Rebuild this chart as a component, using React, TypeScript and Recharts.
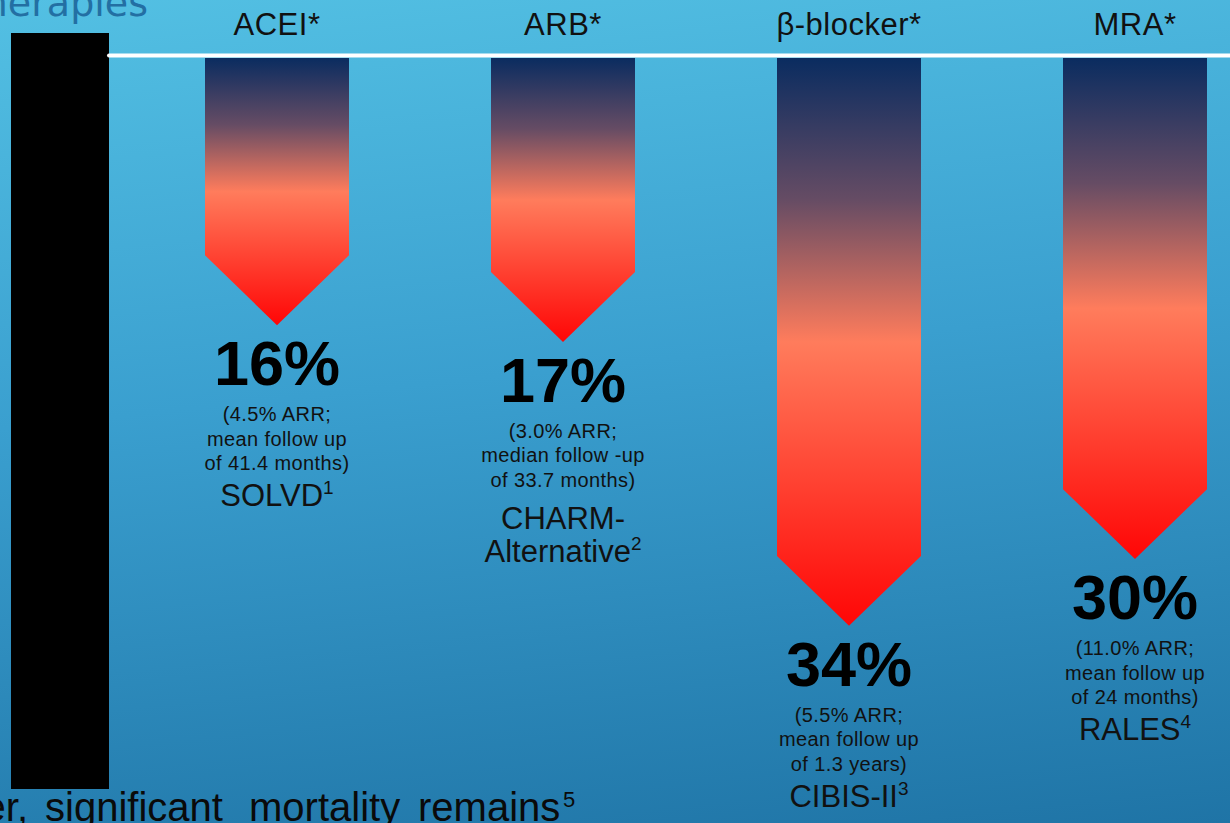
import React from "react";
import { BarChart, Bar, XAxis, YAxis } from "recharts";

const categories = ["ACEI*", "ARB*", "β-blocker*", "MRA*"];
const reductions = [16, 17, 34, 30];
const arrLines = [
  ["(4.5% ARR;", "mean follow up", "of 41.4 months)"],
  ["(3.0% ARR;", "median follow -up", "of 33.7 months)"],
  ["(5.5% ARR;", "mean follow up", "of 1.3 years)"],
  ["(11.0% ARR;", "mean follow up", "of 24 months)"],
];
const trialNames = [["SOLVD"], ["CHARM-", "Alternative"], ["CIBIS-II"], ["RALES"]];
const trialRefs = ["1", "2", "3", "4"];

const data = categories.map((c, i) => ({ category: c, reduction: reductions[i], idx: i }));

const FONT = "'Liberation Sans', Arial, sans-serif";

const ArrowShape = (props: any) => {
  const { x, y, width, height, payload } = props;
  const i = payload.idx;
  const top = Math.min(y, y + height);
  const tip = Math.max(y, y + height);
  const half = width / 2;
  const shoulder = tip - half * 0.97;
  const cx = x + half;
  const gid = `arrowGrad${i}`;
  const d = `M${x},${top} L${x + width},${top} L${x + width},${shoulder} L${cx},${tip} L${x},${shoulder} Z`;
  const names = trialNames[i];
  const nameBase = tip + 181 + (names.length > 1 ? 6 : 0);
  return (
    <g>
      <defs>
        <linearGradient id={gid} x1="0" y1="0" x2="0" y2="1">
          <stop offset="0" stopColor="#0a2c60" />
          <stop offset="0.25" stopColor="#664c64" />
          <stop offset="0.5" stopColor="#ff7c5c" />
          <stop offset="1" stopColor="#ff0606" />
        </linearGradient>
      </defs>
      <path d={d} fill={`url(#${gid})`} />
      <text x={cx} y={tip + 60} textAnchor="middle" fontFamily={FONT} fontWeight="bold" fontSize={63} fill="#000">
        {`${reductions[i]}%`}
      </text>
      {arrLines[i].map((t, k) => (
        <text key={k} x={cx} y={tip + 96 + k * 24.5} textAnchor="middle" fontFamily={FONT} fontSize={20} letterSpacing={0.4} fill="#111">
          {t}
        </text>
      ))}
      {names.map((n, k) => (
        <text key={"n" + k} x={cx} y={nameBase + k * 33} textAnchor="middle" fontFamily={FONT} fontSize={31} fill="#111">
          {n}
          {k === names.length - 1 ? (
            <tspan dy={-12} fontSize={19}>{trialRefs[i]}</tspan>
          ) : null}
        </text>
      ))}
    </g>
  );
};

const TopTick = (props: any) => {
  const { x, payload } = props;
  return (
    <text x={x} y={35} textAnchor="middle" fontFamily={FONT} fontSize={31} fill="#111" letterSpacing={0.5}>
      {payload.value}
    </text>
  );
};

export default function App() {
  return (
    <div
      style={{
        position: "absolute",
        left: 0,
        top: 0,
        width: 1230,
        height: 823,
        overflow: "hidden",
        background: "linear-gradient(174deg, #53c0e3 0%, #3a9fcf 45%, #1f74a6 100%)",
      }}
    >
      <div style={{ position: "absolute", left: 0, top: 0 }}>
        <BarChart width={1278} height={823} data={data} margin={{ top: 0, right: 0, left: 134, bottom: 97 }}>
          <XAxis
            dataKey="category"
            orientation="top"
            height={58}
            axisLine={false}
            tickLine={false}
            tick={<TopTick />}
            interval={0}
          />
          <YAxis type="number" hide reversed domain={[0, 40]} />
          <Bar dataKey="reduction" barSize={144} isAnimationActive={false} shape={<ArrowShape />} />
        </BarChart>
      </div>
      <svg width={1230} height={823} style={{ position: "absolute", left: 0, top: 0, pointerEvents: "none" }}>
        <text x={148} y={16} textAnchor="end" fontFamily="'DejaVu Sans', sans-serif" fontSize={38} fill="#236fa3">
          therapies
        </text>
        <rect x={11} y={33} width={98} height={756} fill="#000" />
        <line x1={109} y1={55.5} x2={1230} y2={55.5} stroke="#fff" strokeWidth={4} strokeLinecap="round" />
        <g fontFamily={FONT} fontSize={40} fill="#0a0a0a">
          <text x={28} y={821} textAnchor="end">er,</text>
          <text x={45} y={821}>significant</text>
          <text x={249} y={821}>mortality</text>
          <text x={418} y={821}>remains</text>
        </g>
        <text x={563} y={807} fontFamily={FONT} fontSize={22} fill="#0a0a0a">5</text>
      </svg>
    </div>
  );
}
